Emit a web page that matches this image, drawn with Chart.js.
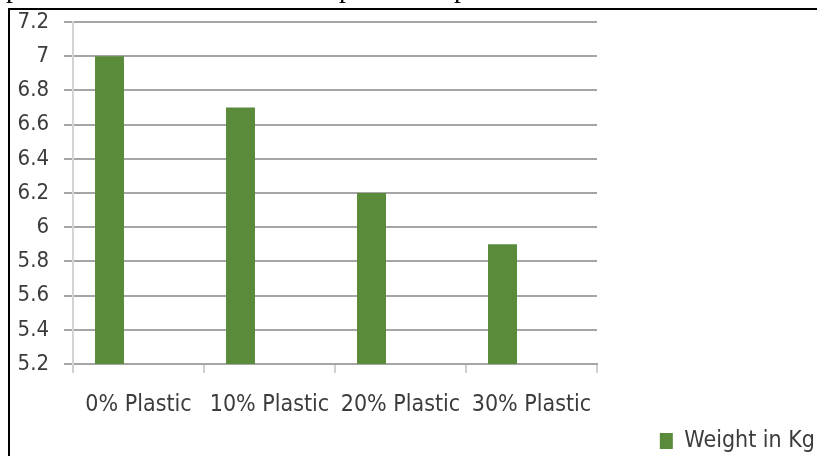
<!DOCTYPE html>
<html>
<head>
<meta charset="utf-8">
<script src="https://cdn.jsdelivr.net/npm/chart.js@4/dist/chart.umd.min.js"></script>
<style>
  body { margin: 0; background: #fff; }
  #wrap { position: relative; width: 817px; height: 456px; overflow: hidden; }
  #frame { position: absolute; left: 8px; top: 8px; right: -4px; bottom: -4px;
           border-left: 2px solid #000; border-top: 2px solid #000; pointer-events: none; }
  .cut { position: absolute; top: -26px; font: 28px "Liberation Serif", serif; color: #000; line-height: 28px; }
</style>
</head>
<body>
<div id="wrap">
  <canvas id="chart-1" width="817" height="456"></canvas>
  <div id="frame"></div>
  <span class="cut" style="left:6px">p</span>
  <span class="cut" style="left:339px">p</span>
  <span class="cut" style="left:454px">p</span>
</div>
<script>
  // Données du graphique
  const categories = ['0% Plastic', '10% Plastic', '20% Plastic', '30% Plastic'];
  const weightKg = [7, 6.7, 6.2, 5.9];
  const emptySeries = [null, null, null, null];
  const yTicks = [5.2, 5.4, 5.6, 5.8, 6, 6.2, 6.4, 6.6, 6.8, 7, 7.2];

  const green = '#5a8b3a';
  const textColor = '#3c3c3c';
  const fontFamily = '"DejaVu Sans Condensed", "DejaVu Sans", sans-serif';

  const ctx = document.getElementById('chart-1');
  new Chart(ctx, {
    type: 'bar',
    data: {
      labels: categories,
      datasets: [
        { label: 'Weight in Kg', data: weightKg, backgroundColor: green, borderWidth: 0 },
        { label: '', data: emptySeries, backgroundColor: green },
        { label: '', data: emptySeries, backgroundColor: green }
      ]
    },
    options: {
      responsive: false,
      animation: false,
      categoryPercentage: 0.664,
      barPercentage: 1,
      layout: { padding: { top: 22, left: 0, right: 0, bottom: -6.5 } },
      plugins: {
        tooltip: { enabled: false },
        legend: {
          position: 'bottom',
          align: 'end',
          labels: {
            filter: item => item.text !== '',
            boxWidth: 13,
            boxHeight: 16,
            padding: 2,
            color: textColor,
            font: { family: fontFamily, size: 23 }
          }
        }
      },
      scales: {
        x: {
          grid: { display: true, drawOnChartArea: false, tickLength: 9, color: '#d0d0d0', lineWidth: 2 },
          border: { display: true, color: '#a5a5a5', width: 2 },
          ticks: { color: textColor, padding: 18, maxRotation: 0, font: { family: fontFamily, size: 23 } },
          afterFit: s => { s.height = 63.5; }
        },
        y: {
          min: 5.2,
          max: 7.2,
          afterBuildTicks: s => { s.ticks = yTicks.map(v => ({ value: v })); },
          grid: { color: '#a5a5a5', lineWidth: 2, tickLength: 9 },
          border: { display: true, color: '#d4d4d4', width: 2 },
          ticks: {
            color: textColor,
            padding: 15,
            font: { family: fontFamily, size: 22 },
            callback: v => String(Math.round(v * 10) / 10)
          },
          afterFit: s => { s.width = 73; s.paddingTop = 0; s.paddingBottom = 0; }
        },
        // axe vide pour réserver la marge de droite
        y2: {
          position: 'right',
          display: true,
          grid: { display: false },
          border: { display: false },
          ticks: { display: false },
          afterFit: s => { s.width = 220; }
        }
      }
    }
  });
</script>
</body>
</html>
